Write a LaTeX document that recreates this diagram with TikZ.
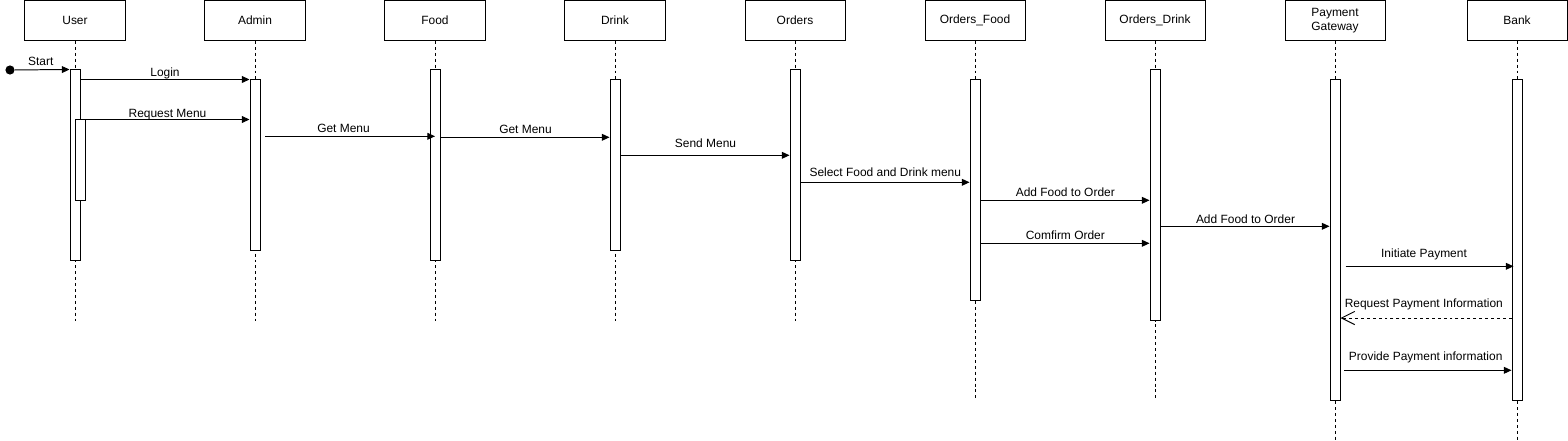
\documentclass[tikz,border=0pt]{standalone}
\usepackage{fontspec}
\setmainfont{Liberation Sans}
\usetikzlibrary{arrows.meta}

\begin{document}
\begin{tikzpicture}[x=0.025cm, y=-0.025cm, line width=0.7pt,
  head/.style={draw, minimum width=2.5cm, minimum height=1cm, align=center, font=\fontsize{8.5}{10}\selectfont},
  bar/.style={draw, fill=white, minimum width=0.25cm, inner sep=0pt},
  life/.style={dash pattern=on 2.1pt off 2.1pt},
  msg/.style={-{Triangle[length=1.9mm,width=1.7mm]}},
  reply/.style={dash pattern=on 2.1pt off 2.1pt, -{Straight Barb[length=3.3mm,width=3.3mm]}},
  lbl/.style={anchor=base, font=\fontsize{8.5}{10}\selectfont},
  dot/.style={circle, fill, inner sep=0pt, minimum size=0.23cm}]
\useasboundingbox (0,0) rectangle (1568,441);
\node[head] (user) at (75,20.5) {User};
\node[head] (admin) at (255,20.5) {Admin};
\node[head] (food) at (435,20.5) {Food};
\node[head] (drink) at (615,20.5) {Drink};
\node[head] (orders) at (795,20.5) {Orders};
\node[head] (ordfood) at (975,20.5) {Orders\_Food};
\node[head] (orddrink) at (1155,20.5) {Orders\_Drink};
\node[head] (pay) at (1335,20.5) {Payment\\Gateway};
\node[head] (bank) at (1517,20.5) {Bank};
\draw[life] (user.south) -- ++(0,279.5);
\draw[life] (admin.south) -- ++(0,279.5);
\draw[life] (food.south) -- ++(0,279.5);
\draw[life] (drink.south) -- ++(0,279.5);
\draw[life] (orders.south) -- ++(0,279.5);
\draw[life] (ordfood.south) -- ++(0,357.5);
\draw[life] (orddrink.south) -- ++(0,357.5);
\draw[life] (pay.south) -- ++(0,400.5);
\draw[life] (bank.south) -- ++(0,400.5);
\node[bar, minimum height=4.75cm] (userbar) at (75,165) {};
\node[bar, minimum height=2cm] (usersub) at (80,160) {};
\node[bar, minimum height=4.25cm] (adminbar) at (255,165) {};
\node[bar, minimum height=4.75cm] (foodbar) at (435,165) {};
\node[bar, minimum height=4.25cm] (drinkbar) at (615,165) {};
\node[bar, minimum height=4.75cm] (ordersbar) at (795,165) {};
\node[bar, minimum height=5.5cm] (ofoodbar) at (975,190) {};
\node[bar, minimum height=6.25cm] (odrinkbar) at (1155,195) {};
\node[bar, minimum height=8cm] (paybar) at (1335,240) {};
\node[bar, minimum height=8cm] (bankbar) at (1517,240) {};
\node[dot] (start) at (10,70) {};
\draw[msg] (start) -- (userbar.north west) node[lbl] at (40.8,65.3) {Start};
\draw[msg] (userbar.east |- adminbar.north) -- (adminbar.north west) node[lbl] at (165,76.7) {Login};
\draw[msg] (usersub.north east) -- (usersub.north east -| adminbar.west) node[lbl] at (167.5,117.3) {Request Menu};
\draw[msg] ([xshift=0.125cm]adminbar.east |- 0,136.3) -- (food |- 0,136.3) node[lbl] at (343.5,132.7) {Get Menu};
\draw[msg] (foodbar.east |- 0,137.3) -- (drinkbar.west |- 0,137.3) node[lbl] at (525.5,133.3) {Get Menu};
\draw[msg] (drinkbar.east |- 0,155.3) -- (ordersbar.west |- 0,155.3) node[lbl] at (705.5,147) {Send Menu};
\draw[msg] (ordersbar.east |- 0,182.3) -- (ofoodbar.west |- 0,182.3) node[lbl] at (885.3,176) {Select Food and Drink menu};
\draw[msg] (ofoodbar.east |- 0,200.3) -- (odrinkbar.west |- 0,200.3) node[lbl] at (1065.3,196) {Add Food to Order};
\draw[msg] (ofoodbar.east |- 0,243.3) -- (odrinkbar.west |- 0,243.3) node[lbl] at (1065.3,239) {Comfirm Order};
\draw[msg] (odrinkbar.east |- 0,226.3) -- (paybar.west |- 0,226.3) node[lbl] at (1245.5,223.3) {Add Food to Order};
\draw[msg] ([xshift=0.13cm]paybar.east |- 0,266.3) -- ([xshift=0.05cm]bankbar.west |- 0,266.3) node[lbl] at (1424,257) {Initiate Payment};
\draw[reply] (bankbar.west |- 0,318) -- (paybar.east |- 0,318) node[lbl] at (1423.8,307) {Request Payment Information};
\draw[msg] ([xshift=0.09cm]paybar.east |- 0,370.3) -- (bankbar.west |- 0,370.3) node[lbl] at (1425.7,360.3) {Provide Payment information};
\end{tikzpicture}
\end{document}
